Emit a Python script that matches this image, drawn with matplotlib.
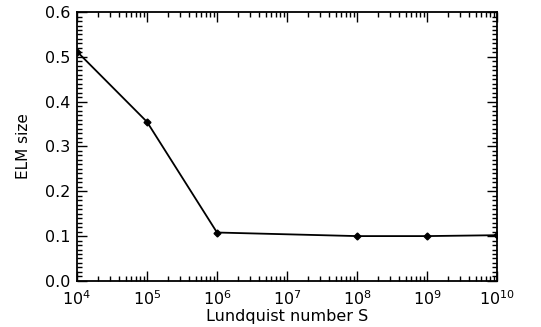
import matplotlib
matplotlib.use("Agg")
import matplotlib.pyplot as plt
from matplotlib.ticker import LogLocator, MultipleLocator

plt.rcParams['font.family'] = ['DejaVu Sans']
plt.rcParams['mathtext.fontset'] = 'dejavusans'

S = [1e4, 1e5, 1e6, 1e8, 1e9, 1e10]
elm_size = [0.512, 0.355, 0.108, 0.100, 0.100, 0.102]
xticks = [1e4, 1e5, 1e6, 1e7, 1e8, 1e9, 1e10]
xticklabels = [r'$\mathregular{10^{4}}$', r'$\mathregular{10^{5}}$', r'$\mathregular{10^{6}}$',
               r'$\mathregular{10^{7}}$', r'$\mathregular{10^{8}}$', r'$\mathregular{10^{9}}$',
               r'$\mathregular{10^{10}}$']
yticks = [0.0, 0.1, 0.2, 0.3, 0.4, 0.5, 0.6]

fig = plt.figure(figsize=(5.41, 3.27), dpi=100)
ax = fig.add_axes([0.1423, 0.141, 0.7764, 0.822])
ax.plot(S, elm_size, color='black', lw=1.3, marker='D', ms=3.5)
ax.set_xscale('log')
ax.set_xlim(1e4, 1e10)
ax.set_ylim(0, 0.6)
ax.set_xticks(xticks)
ax.set_xticklabels(xticklabels)
ax.xaxis.set_minor_locator(LogLocator(base=10, subs=range(2, 10), numticks=100))
ax.set_yticks(yticks)
ax.set_yticklabels(['%.1f' % v for v in yticks])
ax.yaxis.set_minor_locator(MultipleLocator(0.01))
ax.tick_params(which='both', direction='in', top=True, right=True, labelsize=11.5, width=1)
ax.tick_params(which='major', length=7)
ax.tick_params(which='minor', length=3.5)
ax.tick_params(axis='x', pad=6)
ax.tick_params(axis='y', pad=5)
for s in ax.spines.values():
    s.set_linewidth(1.3)
ax.set_xlabel('Lundquist number S', fontsize=11.5, labelpad=1)
ax.set_ylabel('ELM size', fontsize=11, labelpad=10)
fig.savefig('out.png', dpi=100)
